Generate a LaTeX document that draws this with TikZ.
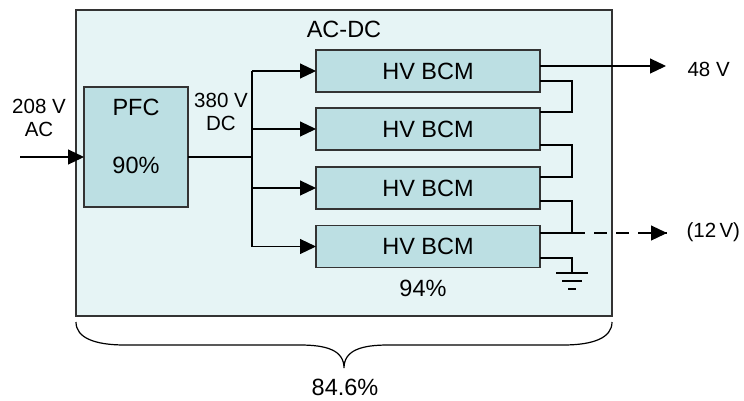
\documentclass[tikz,border=0pt]{standalone}
\usepackage{fontspec}
\setmainfont{Liberation Sans}
\usetikzlibrary{arrows.meta}
\definecolor{outerfill}{HTML}{E6F4F5}
\definecolor{boxfill}{HTML}{BCDFE3}
\definecolor{edge}{HTML}{333333}
\tikzset{
  big/.style={font=\fontsize{23.5}{26}\selectfont},
  small/.style={font=\fontsize{20.5}{24}\selectfont},
  outerbox/.style={draw=edge, fill=outerfill, line width=1.4pt, inner sep=0pt, outer sep=0pt, minimum width=536pt, minimum height=306pt},
  blockbox/.style={draw=edge, fill=boxfill, line width=1.3pt, inner sep=0pt, outer sep=0pt, big},
  wire/.style={line width=1.2pt, black},
  arr/.style={wire, -{Triangle[length=16pt,width=15pt]}},
  dashwire/.style={wire, dash pattern=on 13pt off 9pt},
  gnd/.style={line width=1.2pt, black},
}
\begin{document}
\begin{tikzpicture}[x=1pt,y=-1pt]
\useasboundingbox (0,0) rectangle (744,400);
% outer AC-DC box
\node[outerbox] (acdc) at (344,163) {};
\node[big] (acdclabel) at (344,29) {AC-DC};
% PFC
\node[blockbox, minimum width=104pt, minimum height=120pt] (pfc) at (136,147) {};
\node[big] (pfct) at (136,107) {PFC};
\node[big] (pfce) at (136,165) {90\%};
% BCMs
\node[blockbox, minimum width=224pt, minimum height=42pt] (b1) at (428,71) {HV BCM};
\node[blockbox, minimum width=224pt, minimum height=42pt] (b2) at (428,129) {HV BCM};
\node[blockbox, minimum width=224pt, minimum height=42pt] (b3) at (428,188) {HV BCM};
\node[blockbox, minimum width=224pt, minimum height=42pt] (b4) at (428,246.5) {HV BCM};
\node[big] (eff) at (423,288) {94\%};
% labels
\node[small, align=center] (inlabel) at (39,118) {208 V\\[-1pt]AC};
\node[small, align=center] (dclabel) at (221,112) {380 V\\[-1pt]DC};
\node[small, anchor=west] (l48) at (684,69) {48 V};
\node[small, anchor=west] (l12) at (683,232) {(12\,V)};
% coordinates
\coordinate (in) at (20,157);
\coordinate (busM) at (252,157);
\coordinate (rx) at (572,0);
\coordinate (t48) at (666,66);
\coordinate (t12) at (667,233);
\coordinate (g) at (572,273);
% input
\draw[arr] (in) -- (pfc.west |- in);
% PFC to bus
\draw[wire] (pfc.east |- busM) -- (busM);
\draw[wire] (b1.west -| busM) -- (b4.west -| busM);
\foreach \b in {b1,b2,b3,b4}{
  \draw[arr] (\b.west -| busM) -- (\b.west);
}
% outputs
\draw[arr] ([yshift=5pt]b1.east) -- (t48);
\draw[wire] ([yshift=-10pt]b1.east) -| ([yshift=17pt]b2.east -| rx) -- ([yshift=17pt]b2.east);
\draw[wire] ([yshift=-16pt]b2.east) -| ([yshift=11pt]b3.east -| rx) -- ([yshift=11pt]b3.east);
\draw[wire] ([yshift=-13pt]b3.east) -| ([yshift=13.5pt]b4.east -| rx) -- ([yshift=13.5pt]b4.east);
\draw[dashwire] ([yshift=13.5pt]b4.east -| rx) -- (t12);
\draw[arr] ([xshift=-2pt]t12) -- (t12);
% ground
\draw[wire] ([yshift=-11.5pt]b4.east) -| (g);
\draw[gnd] ([xshift=-16pt]g) -- ([xshift=16pt]g);
\draw[gnd] ([xshift=-10pt,yshift=-8pt]g) -- ([xshift=10pt,yshift=-8pt]g);
\draw[gnd] ([xshift=-4pt,yshift=-16pt]g) -- ([xshift=4pt,yshift=-16pt]g);
% brace
\coordinate (bl) at (76,322);
\coordinate (br) at (612,322);
\coordinate (tip) at (344,368);
\draw[line width=1.2pt] (bl) .. controls (76,338) and (95,345) .. (125,345)
  -- (300,345) .. controls (326,345) and (344,350) .. (tip)
  (tip) .. controls (344,350) and (362,345) .. (388,345)
  -- (563,345) .. controls (593,345) and (612,338) .. (br);
\node[big] (total) at (345,387) {84.6\%};
\end{tikzpicture}
\end{document}
